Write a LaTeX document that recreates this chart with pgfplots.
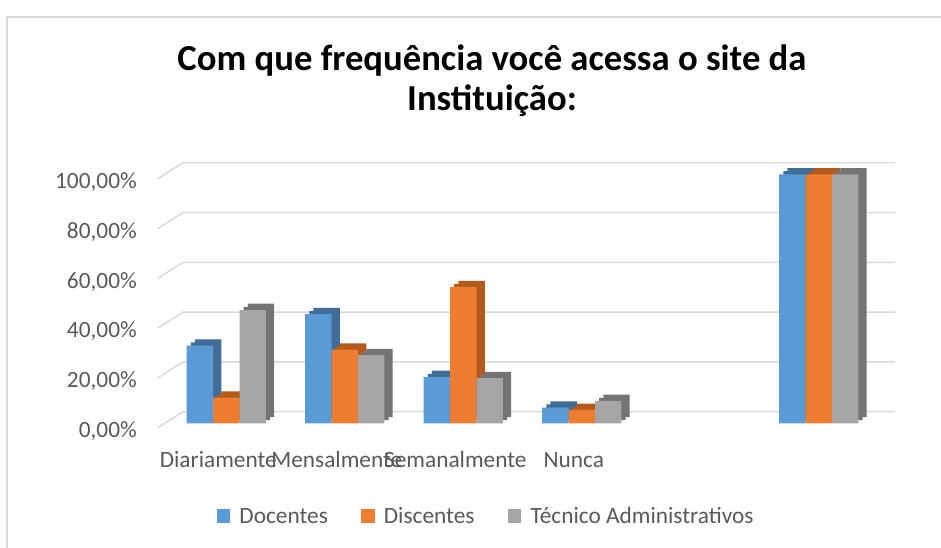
\documentclass[border=0pt]{standalone}
\usepackage{fontspec}
\setmainfont{Carlito}
\usepackage{pgfplots}
\usepackage{pgfplotstable}
\pgfplotsset{compat=1.18}

\definecolor{docblue}{HTML}{5B9BD5}
\definecolor{docside}{HTML}{3F6D98}
\definecolor{disorange}{HTML}{ED7D31}
\definecolor{disside}{HTML}{B45A1D}
\definecolor{tecgray}{HTML}{A5A5A5}
\definecolor{tecside}{HTML}{747474}
\definecolor{gridgray}{HTML}{D9D9D9}
\definecolor{txtgray}{HTML}{595959}

% slot 4 is empty in the original, slot 5 is the total
\pgfplotstableread{
x doc dis tec
0 31.2 10.3 45.5
1 43.8 29.6 27.4
2 18.6 54.7 18.1
3 6.3 5.4 9.0
5 100 100 100
}\freq

\begin{document}
\begin{tikzpicture}
\path[use as bounding box] (0pt,0pt) rectangle (705.75pt,-411pt);
\draw[gridgray, line width=1.1pt] (5.25pt,-411pt) -- (5.25pt,-12.75pt) -- (705.75pt,-12.75pt);

\node[anchor=base, font=\fontsize{27.5}{33}\selectfont\bfseries] at (369pt,-53.25pt)
  {Com que frequência você acessa o site da};
\node[anchor=base, font=\fontsize{27.5}{33}\selectfont\bfseries] at (369pt,-83.25pt)
  {Instituição:};

% back wall of the 3d plot: grid lines and the slanted lines to the front
\begin{axis}[
    at={(137.25pt,-308.775pt)}, anchor=south west,
    scale only axis, width=534pt, height=186.75pt,
    xmin=0, xmax=1, ymin=0, ymax=100,
    xtick=\empty, ytick=\empty,
    axis line style={draw=none},
    clip=false,
]
\pgfplotsinvokeforeach{0,20,...,100}{
  \draw[gridgray, line width=1.1pt] (axis cs:1,#1) -- (axis cs:0,#1) -- ++(-18.75pt,-12pt);
}
\end{axis}

% bars
\begin{axis}[
    at={(125.2875pt,-317.475pt)}, anchor=south west,
    scale only axis, width=533.25pt, height=186.75pt,
    xmin=-0.5, xmax=5.5, ymin=0, ymax=100,
    ybar, bar width=19.8pt,
    axis line style={draw=none}, major tick length=0pt,
    xtick={0,1,2,3},
    xticklabels={Diariamente,Mensalmente,Semanalmente,Nunca},
    xticklabel style={anchor=base, inner sep=0pt, yshift=-33.5pt, xshift=-6pt,
        text=txtgray, font=\fontsize{17.5}{21}\selectfont},
    ytick={0,20,...,100},
    yticklabels={{0,00\%},{20,00\%},{40,00\%},{60,00\%},{80,00\%},{100,00\%}},
    yticklabel style={anchor=east, inner sep=0pt, xshift=-22.5pt, yshift=-5.8pt,
        text=txtgray, font=\fontsize{17.5}{21}\selectfont},
    clip=false,
    legend columns=3,
    legend style={at={(0.4493,-0.3747)}, anchor=center, draw=none, fill=none,
        font=\fontsize{17.5}{21}\selectfont, text=txtgray,
        /tikz/every odd column/.append style={column sep=5pt},
        /tikz/every even column/.append style={column sep=23pt}},
    legend cell align=left,
    legend image code/.code={\fill[#1] (0pt,-4.5pt) rectangle (10pt,5.5pt);},
]
\addplot[forget plot, fill=docside, draw=none, bar shift=-13.6pt, yshift=4.7pt] table[x=x,y=doc]{\freq};
\addplot[forget plot, fill=docside, draw=none, bar shift=-16.7pt, yshift=2.35pt] table[x=x,y=doc]{\freq};
\addplot[fill=docblue, draw=none, bar shift=-19.8pt] table[x=x,y=doc]{\freq};
\addlegendentry{Docentes}

\addplot[forget plot, fill=disside, draw=none, bar shift=6.2pt, yshift=4.7pt] table[x=x,y=dis]{\freq};
\addplot[forget plot, fill=disside, draw=none, bar shift=3.1pt, yshift=2.35pt] table[x=x,y=dis]{\freq};
\addplot[fill=disorange, draw=none, bar shift=0pt] table[x=x,y=dis]{\freq};
\addlegendentry{Discentes}

\addplot[forget plot, fill=tecside, draw=none, bar shift=26pt, yshift=4.7pt] table[x=x,y=tec]{\freq};
\addplot[forget plot, fill=tecside, draw=none, bar shift=22.9pt, yshift=2.35pt] table[x=x,y=tec]{\freq};
\addplot[fill=tecgray, draw=none, bar shift=19.8pt] table[x=x,y=tec]{\freq};
\addlegendentry{Técnico Administrativos}
\end{axis}
\end{tikzpicture}
\end{document}
